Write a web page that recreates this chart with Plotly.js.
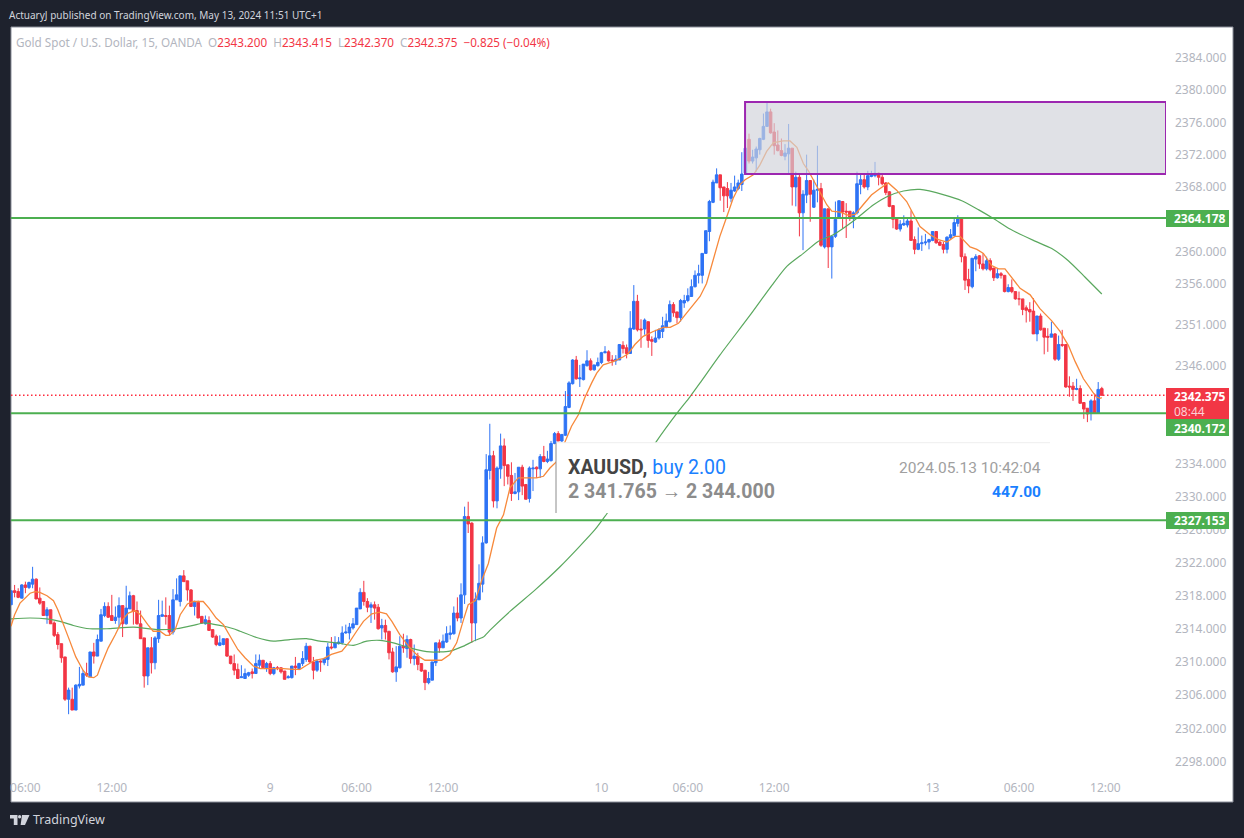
<!DOCTYPE html>
<html><head><meta charset="utf-8">
<script src="https://cdn.plot.ly/plotly-3.0.1.min.js"></script>
<style>html,body{margin:0;padding:0;background:#1e222d}#c{width:1244px;height:838px}</style>
</head><body><div id="c"></div>
<script>
const opens=[2316.9,2318.6,2318.5,2317.7,2319.3,2319.0,2319.4,2320.0,2317.7,2317.3,
2315.6,2316.3,2314.7,2313.3,2312.2,2310.6,2305.5,2305.5,2304.2,2307.1,
2307.2,2308.6,2308.2,2311.2,2310.7,2312.5,2315.6,2316.7,2315.6,2315.0,
2315.4,2316.8,2314.6,2316.4,2318.0,2316.2,2314.6,2312.9,2308.3,2311.7,
2309.9,2312.8,2315.5,2315.6,2315.6,2313.6,2317.5,2317.3,2320.4,2319.8,
2318.7,2316.7,2317.2,2315.5,2314.6,2315.0,2313.9,2313.1,2312.0,2312.1,
2312.8,2310.7,2309.8,2309.1,2308.1,2308.0,2308.4,2308.8,2308.6,2309.6,
2310.2,2309.3,2309.8,2308.6,2309.3,2309.3,2308.9,2308.1,2308.1,2309.5,
2309.2,2309.8,2310.3,2311.9,2310.0,2309.0,2310.1,2309.9,2310.3,2311.8,
2311.7,2312.2,2312.3,2313.5,2313.5,2314.1,2314.5,2316.4,2318.4,2317.3,
2316.6,2316.9,2316.6,2314.1,2314.4,2313.7,2311.2,2308.8,2309.3,2311.9,
2311.6,2312.7,2310.4,2310.7,2309.8,2309.0,2307.5,2307.8,2309.9,2312.3,
2311.7,2312.4,2313.3,2313.4,2315.9,2315.3,2318.1,2327.6,2326.8,2314.7,
2317.5,2319.4,2324.4,2333.2,2335.0,2329.5,2333.4,2336.2,2333.9,2332.6,
2330.4,2330.6,2333.6,2331.5,2329.8,2333.4,2333.6,2333.4,2334.9,2334.3,
2334.4,2336.5,2337.7,2336.8,2337.5,2340.9,2343.8,2346.7,2344.4,2344.3,
2346.0,2346.6,2345.5,2346.0,2346.4,2347.6,2347.7,2346.7,2346.6,2346.7,
2348.5,2348.2,2347.5,2350.5,2353.9,2350.5,2350.5,2351.4,2349.2,2348.9,
2349.4,2350.2,2350.7,2351.4,2353.5,2352.6,2351.9,2353.7,2354.0,2354.5,
2355.7,2357.1,2357.1,2359.8,2362.5,2366.1,2368.5,2369.5,2368.0,2367.8,
2366.6,2367.5,2367.8,2368.3,2369.7,2373.9,2371.2,2371.6,2372.6,2373.9,
2375.5,2377.3,2374.8,2373.2,2372.5,2371.8,2372.1,2372.8,2368.0,2369.2,
2364.8,2367.0,2368.8,2365.5,2367.6,2367.8,2360.6,2365.3,2360.6,2361.9,
2364.1,2366.2,2365.0,2365.0,2364.1,2364.8,2368.3,2368.9,2368.0,2369.3,
2369.4,2369.7,2369.2,2368.5,2367.4,2365.7,2364.1,2362.8,2363.3,2363.3,
2363.8,2361.5,2360.3,2361.0,2361.1,2361.2,2361.4,2362.5,2361.2,2360.9,
2360.3,2361.7,2362.0,2363.5,2364.1,2359.4,2356.6,2355.7,2359.1,2359.5,
2358.5,2357.9,2358.9,2358.0,2356.8,2357.3,2357.1,2355.1,2355.6,2355.1,
2354.2,2354.2,2353.1,2352.9,2352.7,2349.9,2352.1,2350.6,2349.6,2349.5,
2349.9,2346.8,2348.6,2348.6,2343.5,2343.5,2343.1,2343.2,2341.5,2340.8,
2340.2,2341.7,2340.2,2343.2];
const highs=[2318.6,2319.3,2318.9,2319.4,2319.7,2319.7,2321.5,2320.1,2319.0,2317.3,
2316.6,2316.3,2314.9,2313.6,2312.2,2310.6,2306.9,2306.9,2307.3,2309.4,
2309.0,2309.9,2311.2,2312.3,2313.3,2316.4,2317.2,2317.2,2318.1,2316.7,
2317.8,2316.8,2319.2,2318.5,2318.1,2317.3,2316.2,2312.9,2311.7,2313.0,
2313.1,2317.5,2317.4,2317.8,2316.8,2318.8,2320.1,2320.4,2321.1,2319.8,
2318.8,2317.4,2317.4,2315.5,2315.6,2315.5,2313.9,2313.3,2313.2,2312.8,
2312.8,2310.7,2310.9,2309.8,2309.6,2309.2,2308.8,2309.2,2310.9,2310.9,
2310.2,2310.0,2310.1,2309.4,2309.5,2309.3,2308.9,2308.4,2309.5,2310.6,
2309.9,2311.3,2312.3,2311.9,2310.6,2310.3,2310.2,2310.4,2312.3,2313.0,
2313.1,2313.0,2314.3,2314.5,2314.7,2315.3,2316.5,2318.9,2319.8,2317.7,
2317.2,2317.3,2317.0,2315.2,2315.1,2313.7,2311.7,2311.9,2313.1,2313.4,
2313.2,2312.8,2312.1,2311.1,2309.8,2309.0,2308.8,2310.0,2312.3,2312.7,
2313.3,2314.3,2314.4,2316.7,2317.8,2319.5,2328.8,2329.4,2326.9,2318.4,
2321.8,2325.2,2335.2,2338.9,2335.6,2333.7,2337.7,2337.1,2333.9,2334.2,
2332.9,2333.6,2333.9,2331.5,2333.7,2334.5,2333.7,2335.2,2336.2,2335.6,
2336.8,2337.9,2338.0,2337.6,2342.9,2344.1,2346.8,2347.2,2346.1,2346.2,
2347.9,2346.9,2346.1,2347.0,2347.7,2348.4,2347.9,2347.3,2347.3,2348.6,
2349.0,2348.6,2352.7,2355.9,2354.7,2351.7,2351.8,2351.4,2349.6,2350.4,
2350.6,2352.0,2352.4,2354.0,2353.8,2352.6,2354.2,2354.7,2355.5,2356.6,
2357.7,2358.4,2359.8,2362.6,2366.4,2368.9,2370.3,2369.5,2368.0,2368.6,
2368.5,2369.4,2368.9,2372.3,2372.8,2374.6,2372.6,2373.0,2374.1,2377.1,
2378.4,2377.7,2375.9,2375.0,2374.0,2373.3,2375.8,2372.8,2369.9,2369.7,
2367.6,2372.0,2368.8,2368.9,2373.1,2368.5,2365.3,2365.3,2361.9,2366.2,
2366.3,2366.2,2366.0,2365.0,2365.0,2369.9,2369.5,2369.6,2370.0,2370.0,
2371.1,2369.8,2369.5,2368.6,2367.5,2365.7,2364.1,2363.9,2364.5,2364.1,
2365.1,2361.9,2363.0,2362.0,2362.2,2361.6,2362.5,2362.5,2361.3,2361.2,
2361.9,2362.8,2364.1,2364.5,2364.1,2359.8,2357.9,2359.2,2359.7,2359.6,
2359.8,2359.4,2359.2,2358.0,2357.9,2357.5,2357.1,2356.0,2356.6,2355.1,
2355.1,2354.2,2353.4,2353.8,2354.3,2352.1,2352.4,2350.6,2350.6,2351.4,
2350.0,2349.7,2350.4,2348.6,2344.7,2344.0,2344.4,2343.6,2341.5,2340.8,
2341.9,2342.6,2344.0,2343.415];
const lows=[2316.9,2317.8,2317.7,2317.7,2318.3,2318.8,2318.9,2317.6,2316.9,2315.6,
2314.6,2314.6,2313.0,2311.5,2309.9,2305.3,2303.7,2304.2,2304.2,2306.8,
2307.2,2308.2,2308.2,2309.8,2310.7,2312.5,2315.4,2315.3,2315.0,2314.6,
2314.2,2313.0,2314.5,2316.4,2314.5,2314.5,2312.8,2306.9,2307.2,2308.6,
2309.1,2312.3,2315.5,2314.5,2313.2,2313.3,2317.5,2316.7,2319.7,2317.4,
2316.7,2315.6,2315.3,2314.6,2314.5,2313.8,2312.9,2311.9,2311.9,2312.0,
2310.6,2309.7,2308.4,2308.0,2308.1,2308.0,2308.2,2308.0,2308.6,2309.2,
2309.2,2308.8,2308.4,2308.4,2309.0,2308.6,2307.9,2308.0,2308.0,2308.4,
2309.0,2309.5,2310.0,2309.9,2307.9,2308.8,2308.8,2309.6,2309.5,2311.5,
2311.7,2312.1,2312.1,2313.4,2312.7,2313.9,2314.5,2316.4,2316.8,2316.0,
2314.7,2315.1,2313.9,2312.7,2312.7,2310.3,2308.7,2307.6,2309.2,2311.1,
2310.5,2309.8,2309.6,2309.0,2308.8,2306.6,2307.3,2307.8,2309.5,2311.1,
2311.7,2312.3,2312.7,2313.3,2314.9,2314.7,2317.0,2325.6,2312.3,2312.5,
2317.5,2318.4,2324.3,2332.1,2328.7,2328.6,2332.2,2331.3,2331.5,2329.5,
2330.3,2329.6,2330.2,2329.7,2329.3,2330.7,2332.3,2332.3,2334.2,2334.1,
2334.3,2336.4,2336.8,2336.7,2337.4,2340.8,2343.7,2344.3,2343.4,2344.2,
2345.9,2345.4,2345.4,2345.9,2346.2,2347.5,2346.5,2346.0,2346.1,2346.7,
2347.5,2346.9,2347.5,2350.4,2350.2,2348.2,2349.8,2348.2,2347.2,2348.8,
2349.2,2349.4,2350.6,2351.3,2352.0,2351.2,2351.4,2353.1,2353.8,2354.5,
2355.6,2356.1,2356.1,2359.8,2361.3,2366.0,2368.5,2366.3,2364.9,2365.4,
2366.1,2367.4,2367.6,2367.5,2369.6,2370.9,2370.9,2369.9,2372.0,2373.8,
2375.5,2374.6,2372.0,2372.4,2371.8,2371.3,2369.7,2365.7,2365.6,2361.9,
2360.2,2366.0,2363.7,2365.4,2366.1,2360.6,2360.4,2358.0,2356.7,2361.7,
2364.1,2362.9,2361.7,2363.8,2362.9,2364.6,2367.1,2367.8,2367.6,2369.2,
2369.2,2368.2,2368.2,2367.0,2365.5,2362.9,2362.7,2362.5,2363.2,2363.0,
2361.4,2359.7,2360.2,2360.1,2360.8,2360.3,2361.3,2361.0,2360.7,2359.8,
2359.8,2361.6,2361.9,2363.1,2358.7,2355.3,2354.9,2355.5,2357.6,2357.9,
2357.7,2357.7,2357.6,2356.4,2356.7,2356.7,2355.0,2355.0,2354.9,2354.1,
2353.4,2352.2,2351.3,2351.4,2349.9,2349.0,2350.3,2347.4,2347.7,2349.5,
2346.6,2346.6,2348.3,2343.3,2342.2,2341.7,2343.0,2341.4,2339.5,2339.1,
2339.3,2340.1,2340.1,2342.37];
const closes=[2318.6,2318.4,2317.8,2319.3,2319.0,2319.6,2320.0,2317.6,2317.1,2315.6,
2316.3,2314.6,2313.2,2312.1,2310.5,2305.5,2306.6,2304.2,2307.2,2307.3,
2308.6,2308.4,2311.2,2310.7,2312.7,2315.7,2316.7,2315.4,2315.0,2315.4,
2316.8,2314.6,2316.5,2318.0,2316.1,2314.6,2312.8,2308.3,2311.7,2309.9,
2312.9,2315.6,2315.7,2315.5,2313.6,2317.5,2318.1,2320.4,2319.7,2318.7,
2316.7,2317.3,2315.3,2314.7,2315.1,2313.8,2313.0,2312.1,2312.3,2312.8,
2310.7,2309.8,2309.0,2308.0,2308.2,2308.6,2308.7,2308.6,2309.8,2310.2,
2309.3,2309.8,2308.6,2309.3,2309.2,2308.8,2307.9,2308.2,2309.5,2309.3,
2309.8,2310.4,2311.9,2310.0,2309.0,2310.1,2310.0,2310.4,2311.8,2311.7,
2312.3,2312.4,2313.5,2313.6,2314.2,2314.6,2316.5,2318.4,2317.3,2316.6,
2316.9,2316.5,2314.0,2314.4,2313.6,2311.1,2308.8,2309.4,2311.9,2311.7,
2312.7,2310.4,2310.7,2309.7,2308.9,2307.5,2308.0,2310.0,2312.3,2311.7,
2312.5,2313.4,2313.5,2315.9,2315.3,2318.1,2327.6,2326.7,2314.7,2317.6,
2319.5,2324.4,2333.3,2335.0,2329.5,2333.5,2336.2,2333.8,2332.5,2330.4,
2330.6,2333.6,2331.3,2329.7,2333.5,2333.5,2333.4,2334.9,2334.3,2334.6,
2336.5,2337.7,2336.8,2337.6,2341.0,2343.9,2346.7,2344.4,2344.5,2346.2,
2346.6,2345.5,2346.1,2346.4,2347.6,2347.7,2346.6,2346.6,2346.8,2348.6,
2348.1,2347.5,2350.6,2353.9,2350.4,2350.4,2351.6,2349.1,2349.0,2349.4,
2350.4,2350.9,2351.5,2353.5,2352.5,2351.9,2354.0,2354.0,2354.6,2355.7,
2357.1,2357.3,2359.8,2362.6,2366.2,2368.6,2369.5,2367.9,2366.9,2366.9,
2367.6,2368.0,2368.5,2369.6,2372.8,2371.2,2371.7,2372.7,2374.0,2375.5,
2377.3,2374.7,2373.1,2372.5,2371.9,2372.2,2372.8,2368.0,2369.2,2364.8,
2367.1,2368.8,2367.1,2367.6,2367.7,2360.8,2365.3,2360.6,2361.9,2364.0,
2366.3,2364.9,2364.9,2364.1,2364.8,2368.4,2368.9,2368.0,2369.4,2369.5,
2369.7,2369.2,2368.4,2367.3,2365.6,2364.0,2362.8,2363.4,2363.5,2363.8,
2361.4,2360.3,2361.0,2361.1,2361.2,2361.5,2362.5,2361.1,2360.8,2360.3,
2361.8,2362.1,2363.6,2364.1,2359.4,2356.5,2355.8,2359.2,2359.4,2358.5,
2357.9,2358.9,2357.8,2356.8,2357.3,2357.1,2355.1,2355.6,2355.1,2354.2,
2354.2,2352.9,2352.8,2352.6,2349.9,2352.1,2350.4,2349.5,2349.5,2349.9,
2346.8,2348.6,2348.5,2343.4,2343.4,2343.1,2343.2,2341.4,2340.7,2340.1,
2341.7,2340.2,2343.1,2342.375];

const fastBars=[0,1,2.5,4,5.3,6.7,8,10,11.8,13,14.5,16,18,20,21.5,23,24,25,27,29,31,32.6,34.4,36,38,39.5,41.4,43,44,45.6,47,49,50.6,53.4,55,57,59,61.3,63,65,66.4,67.3,69.2,72.9,75.6,78.4,80.3,82.1,84.4,86.8,89,91.9,94.2,96,97.9,100.2,102.5,104.3,105.8,108,110.8,113.1,115,117.8,119.6,121.9,123.8,125.7,127,129,130.8,132.6,134.9,136.8,138.6,140.9,143.2,146,147.9,149.7,151.6,153.9,155.7,157.6,159.4,161.3,162.7,164.5,167.3,170.1,171.5,173.3,175.6,178.4,181.2,183.1,185.4,187.2,189.1,191.4,193.2,195.1,196.9,198.8,200.6,202.5,203.9,206.2,208,209.9,211.8,214.5,216.4,218.3,220.1,221.5,223.4,225.2,226.6,228,230.3,232.6,234.5,236.7,239,241.4,243.7,246,248.8,250.7,252.5,255.3,257.6,260,262.2,263.6,265,266.4,268.3,270.1,272.4,274.3,276.1,278.4,280.3,283.1,285.8,289.1,291.4,293.7,295.6,297.9,299.8,301.4,302.5,303];
const fastMA=[2314.3,2315.7,2317.1,2317.8,2318.3,2318.5,2318.4,2318.0,2317.4,2316.3,2314.7,2312.9,2310.6,2309.0,2308.2,2308.1,2308.4,2309.6,2311.7,2313.3,2315.1,2315.9,2316.2,2315.7,2314.5,2313.7,2313.7,2313.2,2313.2,2313.9,2315.7,2317.0,2317.3,2317.3,2316.5,2315.3,2314.5,2312.7,2311.5,2310.5,2309.9,2309.5,2309.2,2309.2,2309.2,2309.1,2309.1,2309.6,2310.2,2310.4,2310.9,2311.3,2312.5,2313.7,2314.9,2315.8,2316.0,2315.8,2314.9,2313.3,2311.7,2310.7,2310.2,2310.2,2310.2,2310.9,2312.3,2315.1,2316.9,2317.4,2319.9,2321.9,2326.2,2327.8,2331.1,2332.3,2332.3,2332.3,2332.5,2333.5,2334.3,2336.6,2338.6,2340.0,2342.1,2343.9,2345.1,2346.1,2346.5,2347.1,2347.5,2348.6,2349.6,2350.2,2350.7,2350.7,2351.2,2352.2,2353.2,2354.5,2356.1,2359.2,2361.9,2364.3,2366.6,2368.3,2368.9,2369.5,2370.7,2372.4,2373.5,2373.7,2373.7,2372.9,2370.9,2370.0,2368.5,2367.0,2365.8,2365.0,2364.9,2364.5,2364.6,2365.8,2367.0,2367.8,2368.5,2367.6,2366.2,2364.6,2363.1,2362.1,2361.5,2361.2,2361.9,2361.9,2361.2,2360.6,2360.3,2359.8,2358.3,2357.9,2357.9,2356.5,2355.5,2354.7,2353.0,2351.5,2350.2,2348.5,2346.5,2344.4,2343.2,2342.2,2342.0,2342.1];
const slowBars=[0,5.3,9.9,13.6,17.3,21.9,26.6,34,40.5,46,50.6,53.4,58,61.8,63.6,68.2,72.9,77.5,82.1,85.8,90.5,95.1,98.8,102.5,106.2,110.8,116.4,121.9,125.7,128.4,131.2,133,138.6,145.6,152.5,162.2,165.6,171.9,179.2,185,188.6,191.4,196.9,205.3,211.4,215.5,220.1,224.3,228.4,234,239.6,243.3,247.9,252.5,259.4,264.1,268.7,272.9,277.5,284,289.1,293.7,298.3,303];
const slowMA=[2315.2,2315.3,2315.2,2314.9,2314.4,2314.0,2314.0,2314.2,2313.9,2314.0,2314.4,2314.7,2314.4,2314.0,2313.7,2312.95,2312.5,2312.7,2312.8,2312.5,2312.3,2312.0,2312.5,2312.6,2312.3,2311.7,2311.2,2311.3,2311.9,2312.5,2313.0,2313.8,2316.1,2318.7,2321.5,2326.0,2328.0,2331.8,2336.7,2340.2,2342.2,2343.9,2347.3,2352.2,2355.9,2358.2,2359.8,2361.3,2362.1,2363.8,2365.8,2366.8,2367.5,2367.7,2367.0,2366.3,2365.2,2364.1,2362.8,2361.4,2360.4,2358.9,2356.9,2354.8];

const priceTicks=[2298,2302,2306,2310,2314,2318,2322,2326,2330,2334,2346,2351,2356,2360,2368,2372,2376,2380,2384];
const timeBars=[4,28,72,96,120,164,188,212,256,280,304];
const timeLabels=['06:00','12:00','9','06:00','12:00','10','06:00','12:00','13','06:00','12:00'];
const levels=[2364.178,2340.172,2327.153];
const lastPrice=2342.375;
const zoneTop=2378.53, zoneBottom=2369.6, zoneStartBar=203.9;

const W=1155,H=748,ML=11,MT=27;
const px=x=>(x-ML)/W, py=y=>(MT+H-y)/H;
const endBar=320.83;
const SANS='"Noto Sans",sans-serif', ROB='Roboto,sans-serif';
const pxRect=(x0,y0,x1,y1,fill,line,layer)=>({type:'rect',xref:'paper',yref:'paper',x0:px(x0),x1:px(x1),y0:py(y0),y1:py(y1),fillcolor:fill,line:line||{width:0},layer:layer||'above'});
const pxPath=(pts,fill)=>({type:'path',xref:'paper',yref:'paper',layer:'above',fillcolor:fill,line:{width:0},
  path:pts.map((p,i)=>(i?'L':'M')+px(p[0])+','+py(p[1])).join(' ')+' Z'});
const lbl=(text,x,y,size,color,font,anchor)=>({text:text,xref:'paper',yref:'paper',x:px(x),y:py(y),xanchor:anchor||'left',yanchor:'middle',showarrow:false,align:anchor||'left',borderpad:0,borderwidth:0,font:{size:size,color:color,family:font||SANS}});
const G='#4caf50',R='#f23645';

const shapes=[
 pxRect(11,27,1233,802,'#ffffff',{color:'#8a8e99',width:1},'below'),
 {type:'rect',xref:'x',yref:'y',x0:zoneStartBar,x1:endBar,y0:zoneBottom,y1:zoneTop,fillcolor:'rgba(209,210,217,0.67)',line:{color:'#9c27b0',width:2},layer:'above'},
 {type:'line',xref:'x',yref:'y',x0:0,x1:endBar,y0:lastPrice,y1:lastPrice,line:{color:'#ff2a3c',width:1.5,dash:'1.5px,2.5px'},layer:'above'},
 ...levels.map(v=>({type:'line',xref:'x',yref:'y',x0:0,x1:endBar,y0:v,y1:v,line:{color:G,width:2},layer:'above'})),
 pxRect(556,443,1058,513,'#ffffff'),
 {type:'line',xref:'paper',yref:'paper',x0:px(557),x1:px(1050),y0:py(442.7),y1:py(442.7),line:{color:'#eeeeee',width:1},layer:'above'},
 {type:'line',xref:'paper',yref:'paper',x0:px(556),x1:px(556),y0:py(443),y1:py(513),line:{color:'#8c8c8c',width:1},layer:'above'},
 pxRect(1166,210,1229,227,G),
 pxRect(1166,388,1229,419,R),
 pxRect(1166,419,1229,436,G),
 pxRect(1166,512,1229,529,G),
 pxPath([[10,815],[17.5,815],[17.5,825],[13.8,825],[13.8,818.5],[10,818.5]],'#d1d4dc'),
 {type:'circle',xref:'paper',yref:'paper',x0:px(18),x1:px(21.2),y0:py(815),y1:py(818.4),fillcolor:'#d1d4dc',line:{width:0},layer:'above'},
 pxPath([[22,815],[29.5,815],[25,825],[20.6,825]],'#d1d4dc')
];

const annotations=[
 lbl('ActuaryJ published on TradingView.com, May 13, 2024 11:51 UTC+1',9,15,10,'#d1d4dc'),
 lbl('Gold Spot / U.S. Dollar, 15, OANDA  O<span style="color:#f23645">2343.200</span>  H<span style="color:#f23645">2343.415</span>  L<span style="color:#f23645">2342.370</span>  C<span style="color:#f23645">2342.375</span>  <span style="color:#f23645">−0.825 (−0.04%)</span>',16,42,11.7,'#b2b5be'),
 lbl('TradingView',33,820,12.5,'#d1d4dc'),
 lbl('<b>XAUUSD,</b> <span style="color:#1a80ff">buy 2.00</span>',568,467,19.5,'#444444',ROB),
 lbl('<b>2 341.765 → 2 344.000</b>',568,491,19.5,'#8c8c8c',ROB),
 lbl('2024.05.13 10:42:04',1041,468,15.5,'#a0a0a0',ROB,'right'),
 lbl('<b>447.00</b>',1041,492,15.5,'#1a80ff',ROB,'right'),
 lbl('<b>2364.178</b>',1174,218.5,12,'#ffffff'),
 lbl('<b>2342.375</b>',1174,396,12,'#ffffff'),
 lbl('08:44',1174,411,12,'#fdd0d5'),
 lbl('<b>2340.172</b>',1174,428,12,'#ffffff'),
 lbl('<b>2327.153</b>',1174,520.5,12,'#ffffff')
];

const traces=[
 {type:'candlestick',x:closes.map((_,i)=>i),open:opens,high:highs,low:lows,close:closes,
  increasing:{line:{color:'#2e73f5',width:1},fillcolor:'#2e73f5'},
  decreasing:{line:{color:'#f23645',width:1},fillcolor:'#f23645'},
  whiskerwidth:0,hoverinfo:'skip',showlegend:false},
 {type:'scatter',mode:'lines',x:slowBars,y:slowMA,line:{color:'#5aa85e',width:1.2,shape:'spline',smoothing:0.6},hoverinfo:'skip',showlegend:false},
 {type:'scatter',mode:'lines',x:fastBars,y:fastMA,line:{color:'#f7893b',width:1.3},hoverinfo:'skip',showlegend:false}
];

const layout={
 width:1244,height:838,paper_bgcolor:'#1e222d',plot_bgcolor:'#ffffff',showlegend:false,
 margin:{l:ML,r:78,t:MT,b:63,pad:0},boxgap:0.3,boxgroupgap:0,hovermode:false,
 xaxis:{range:[0,endBar],tickmode:'array',tickvals:timeBars,ticktext:timeLabels,showgrid:false,zeroline:false,showline:false,ticks:'',
  tickfont:{family:SANS,size:12,color:'#b2b5be'},ticklabelstandoff:4,rangeslider:{visible:false},fixedrange:true},
 yaxis:{type:'log',side:'right',range:[Math.log10(2296.4),Math.log10(2387.86)],tickmode:'array',tickvals:priceTicks,ticktext:priceTicks.map(v=>v.toFixed(3)),
  showgrid:false,zeroline:false,showline:false,ticks:'',tickfont:{family:SANS,size:12,color:'#b2b5be'},ticklabelstandoff:8,fixedrange:true},
 shapes:shapes,annotations:annotations
};
Plotly.newPlot('c',traces,layout,{displayModeBar:false,staticPlot:true});
</script></body></html>
